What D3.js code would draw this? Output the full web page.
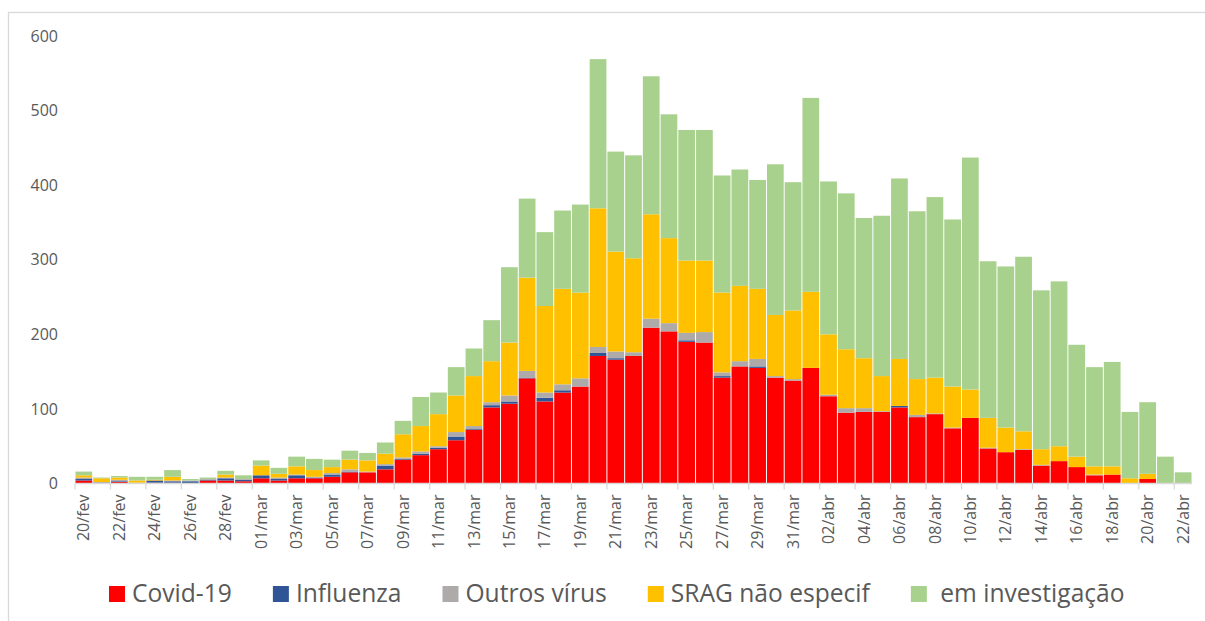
<!DOCTYPE html>
<html>
<head>
<meta charset="utf-8">
<script src="https://cdnjs.cloudflare.com/ajax/libs/d3/7.8.5/d3.min.js"></script>
<style>
  body { margin: 0; background: #fff; }
  text { font-family: "Open Sans", sans-serif; fill: #595959; }
</style>
</head>
<body>
<div id="chart"></div>
<script>
// Data: daily cases by category (20/fev to 22/abr)
var dates = [
  "20/fev","21/fev","22/fev","23/fev","24/fev","25/fev","26/fev","27/fev","28/fev","29/fev",
  "01/mar","02/mar","03/mar","04/mar","05/mar","06/mar","07/mar","08/mar","09/mar","10/mar",
  "11/mar","12/mar","13/mar","14/mar","15/mar","16/mar","17/mar","18/mar","19/mar","20/mar",
  "21/mar","22/mar","23/mar","24/mar","25/mar","26/mar","27/mar","28/mar","29/mar","30/mar",
  "31/mar","01/abr","02/abr","03/abr","04/abr","05/abr","06/abr","07/abr","08/abr","09/abr",
  "10/abr","11/abr","12/abr","13/abr","14/abr","15/abr","16/abr","17/abr","18/abr","19/abr",
  "20/abr","21/abr","22/abr"
];

var covid = [4,0,2,0,1,1,0,4,4,3, 7,4,7,7,9,15,15,19,32,38,
  46,58,72,102,107,141,110,122,130,171, 166,171,209,204,190,189,142,157,155,142,
  138,155,117,95,96,96,102,89,93,74, 88,47,42,45,24,30,22,11,12,0, 6,0,0];
var influenza = [2,0,1,0,3,2,3,1,3,2, 4,2,4,1,3,1,0,5,1,2,
  2,5,1,3,3,1,5,3,0,4, 2,0,0,0,2,0,2,0,2,0,
  0,0,0,0,0,0,2,0,0,0, 0,0,0,0,0,0,0,0,0,0, 0,0,0];
var outros = [2,2,2,1,0,1,1,1,1,1, 0,2,1,1,2,3,1,2,2,3,
  2,6,4,4,8,9,7,8,11,8, 9,5,12,11,10,14,5,7,10,2,
  2,0,2,6,5,1,0,3,1,1, 0,1,0,1,1,0,0,1,0,0, 0,0,0];
var srag = [3,5,3,3,1,5,0,0,4,0, 13,5,11,9,8,13,15,14,31,34,
  43,49,67,55,71,125,116,128,115,186, 134,126,140,114,97,96,107,101,94,82,
  92,102,81,79,67,47,63,48,48,55, 38,40,33,24,21,20,14,11,11,7, 7,0,0];
var investigacao = [5,1,2,5,4,9,2,2,5,5, 7,8,13,15,10,12,10,15,18,39,
  29,38,37,55,101,106,99,105,118,200, 134,138,185,166,175,175,157,156,146,202,
  172,260,205,209,188,215,242,225,242,224, 311,210,216,234,213,221,150,133,140,89,
  96,36,15];

var seriesNames = ["Covid-19", "Influenza", "Outros vírus", "SRAG não especif", " em investigação"];
var seriesColors = ["#ff0000", "#2f5597", "#aeaaaa", "#ffc000", "#a9d18e"];
var yTicks = [0, 100, 200, 300, 400, 500, 600];

var svgWidth = 1205;
var svgHeight = 621;
var margin = { top: 36, right: 13, bottom: 138, left: 75 };

var svg = d3.select("#chart")
  .append("svg")
  .attr("width", svgWidth)
  .attr("height", svgHeight);

// chart area border (runs off the right and bottom edge like the screenshot)
svg.append("rect")
  .attr("x", 8.5)
  .attr("y", 12.5)
  .attr("width", svgWidth)
  .attr("height", svgHeight)
  .attr("fill", "none")
  .attr("stroke", "#d9d9d9")
  .attr("stroke-width", 1.3);

// build table for stack
var rows = dates.map(function(d, i) {
  return { date: d, s0: covid[i], s1: influenza[i], s2: outros[i], s3: srag[i], s4: investigacao[i] };
});
var keys = ["s0", "s1", "s2", "s3", "s4"];
var stacked = d3.stack().keys(keys)(rows);

var xScale = d3.scaleBand()
  .domain(dates)
  .range([margin.left, svgWidth - margin.right])
  .padding(0);

var yScale = d3.scaleLinear()
  .domain([0, 600])
  .range([svgHeight - margin.bottom + 0.5, margin.top]);

// bars
svg.append("g")
  .selectAll("g")
  .data(stacked)
  .join("g")
  .attr("fill", (d, i) => seriesColors[i])
  .selectAll("rect")
  .data(d => d)
  .join("rect")
  .attr("x", d => xScale(d.data.date) + 0.5)
  .attr("width", xScale.bandwidth() - 1)
  .attr("y", d => yScale(d[1]))
  .attr("height", d => yScale(d[0]) - yScale(d[1]));

// y axis: labels only
var leftAxis = d3.axisLeft(yScale).tickValues(yTicks).tickSize(0).tickPadding(0);
var yAxisG = svg.append("g")
  .attr("transform", "translate(58,0)")
  .call(leftAxis);
yAxisG.select(".domain").remove();
yAxisG.selectAll("text")
  .attr("font-size", 16)
  .attr("font-family", "Open Sans")
  .attr("fill", "#595959");

// x axis: line, ticks every 2 days, rotated labels
var baseY = yScale(0);
svg.append("line")
  .attr("x1", margin.left)
  .attr("x2", svgWidth - margin.right)
  .attr("y1", baseY)
  .attr("y2", baseY)
  .attr("stroke", "#d9d9d9")
  .attr("stroke-width", 1.3);

var shown = dates.filter((d, i) => i % 2 === 0);

svg.append("g")
  .selectAll("line")
  .data(shown)
  .join("line")
  .attr("x1", d => xScale(d))
  .attr("x2", d => xScale(d))
  .attr("y1", baseY)
  .attr("y2", baseY + 6)
  .attr("stroke", "#d9d9d9")
  .attr("stroke-width", 1.3);

svg.append("g")
  .selectAll("text")
  .data(shown)
  .join("text")
  .attr("transform", d => `translate(${xScale(d) + xScale.bandwidth() / 2}, ${baseY + 11}) rotate(-90)`)
  .attr("text-anchor", "end")
  .attr("dy", "0.35em")
  .attr("font-size", 16)
  .text(d => d);

// legend, laid out left to right
var legend = svg.append("g").attr("transform", "translate(109, 0)");
var lx = 0;
seriesNames.forEach(function(name, i) {
  legend.append("rect")
    .attr("x", lx)
    .attr("y", 586)
    .attr("width", 16)
    .attr("height", 16)
    .attr("fill", seriesColors[i]);
  var t = legend.append("text")
    .attr("x", lx + 23)
    .attr("y", 602)
    .attr("font-size", 24.6)
    .style("white-space", "pre")
    .text(name);
  lx = lx + 23 + t.node().getComputedTextLength() + 41;
});
</script>
</body>
</html>
